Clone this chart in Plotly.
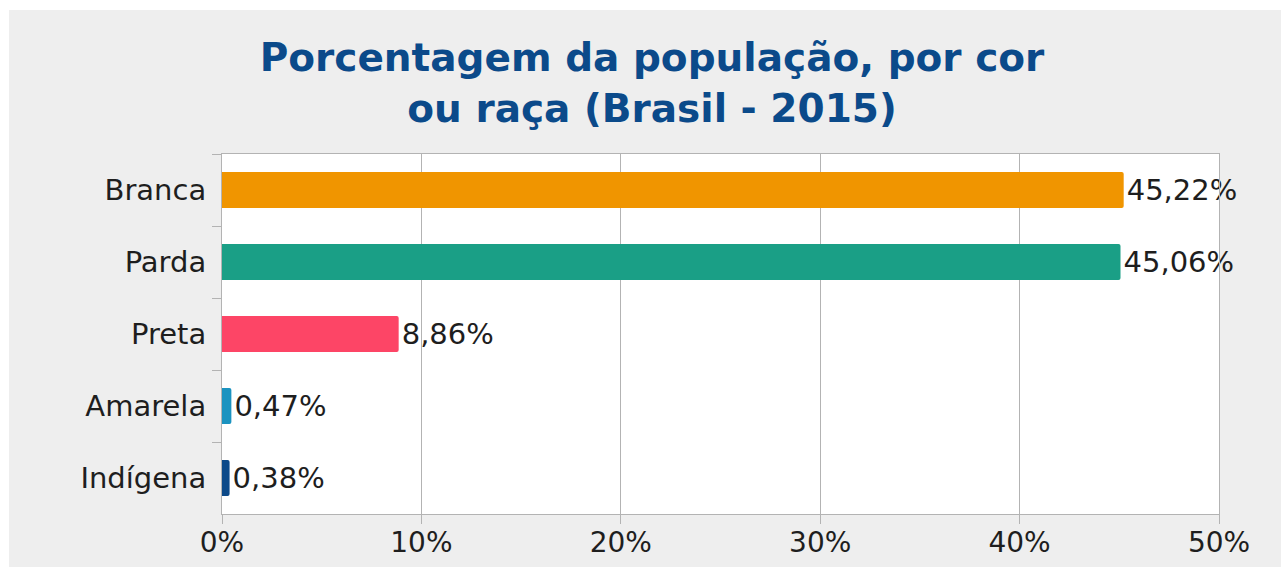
import plotly.graph_objects as go

categories = ["Branca", "Parda", "Preta", "Amarela", "Indígena"]
values = [45.22, 45.06, 8.86, 0.47, 0.38]
colors = ["#f09500", "#1a9f86", "#fd4566", "#1b93c0", "#0d4a89"]
x_ticks = [0, 10, 20, 30, 40, 50]
x_tick_labels = ["0%", "10%", "20%", "30%", "40%", "50%"]
title_text = "Porcentagem da população, por cor<br>ou raça (Brasil - 2015)"

W, H = 1281, 567
L, R, T, B = 222, 62, 154, 53
pw, ph = W - L - R, H - T - B

def px_x(p):
    return (p - L) / pw

def px_y(p):
    return (H - B - p) / ph

fig = go.Figure(go.Bar(
    x=values, y=categories, orientation="h",
    marker=dict(color=colors, line=dict(width=0)),
    texttemplate="%{x:.2f}%", textposition="outside",
    textfont=dict(family="DejaVu Sans", size=29, color="#1e1e1e"),
    cliponaxis=False, constraintext="none",
))

fig.update_layout(
    width=W, height=H,
    margin=dict(l=L, r=R, t=T, b=B, autoexpand=False),
    paper_bgcolor="white", plot_bgcolor="rgba(0,0,0,0)",
    separators=",.",
    bargap=0.5,
    barcornerradius=2,
    showlegend=False,
    title=dict(text=title_text, x=652 / W, xanchor="center",
               y=1 - 71 / H, yanchor="middle",
               font=dict(family="DejaVu Sans", size=39, color="#0b4a8a", weight="bold")),
    shapes=[
        dict(type="rect", xref="paper", yref="paper", layer="below",
             x0=px_x(9), x1=px_x(W + 5), y0=px_y(10), y1=px_y(H + 5),
             fillcolor="#eeeeee", line=dict(width=0)),
        dict(type="rect", xref="paper", yref="paper", layer="below",
             x0=0, x1=1, y0=0, y1=1, fillcolor="white", line=dict(width=0)),
    ],
)

fig.update_xaxes(
    range=[0, 50], tickvals=x_ticks, ticktext=x_tick_labels,
    showgrid=True, gridcolor="#b3b3b3", gridwidth=1,
    showline=True, linecolor="#b3b3b3", linewidth=1, mirror=True,
    ticks="outside", ticklen=9, tickcolor="#b3b3b3",
    ticklabelstandoff=-6,
    tickfont=dict(family="DejaVu Sans", size=28, color="#1e1e1e"),
    zeroline=False, fixedrange=True, automargin=False,
)
fig.update_yaxes(
    categoryorder="array", categoryarray=categories, autorange="reversed",
    showgrid=False, tickson="boundaries",
    showline=True, linecolor="#b3b3b3", linewidth=1, mirror=True,
    ticks="outside", ticklen=9, tickcolor="#b3b3b3",
    ticklabelstandoff=9,
    tickfont=dict(family="DejaVu Sans", size=29, color="#1e1e1e"),
    fixedrange=True, automargin=False,
)

fig.write_html("out.html")
